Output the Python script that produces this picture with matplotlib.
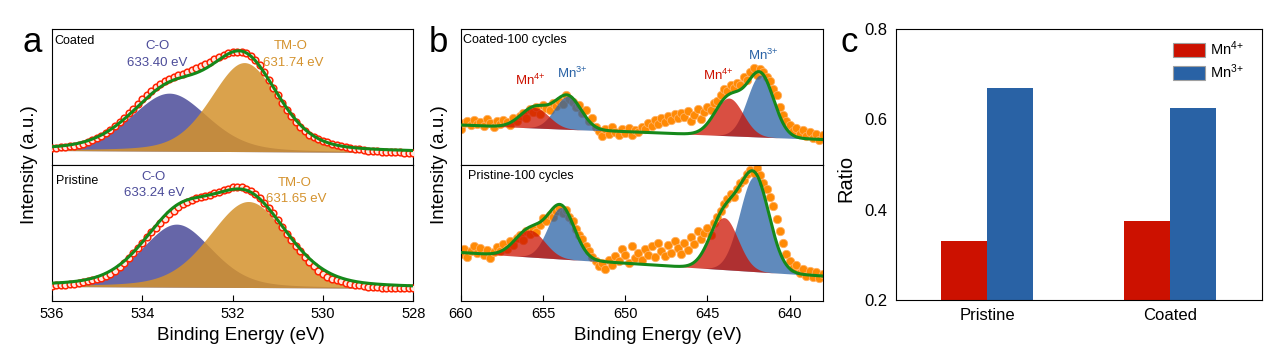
import numpy as np
import matplotlib.pyplot as plt
from matplotlib.patches import Patch

plt.rcParams['font.family'] = ['Liberation Sans', 'DejaVu Sans']
plt.rcParams['mathtext.fontset'] = 'custom'
plt.rcParams['mathtext.rm'] = 'Liberation Sans'
plt.rcParams['mathtext.it'] = 'Liberation Sans:italic'
plt.rcParams['mathtext.bf'] = 'Liberation Sans:bold'

# ---- panel a : O 1s, measured points (536 -> 528 eV, 0.1 eV step) ----
o1s_coated = [17.0, 17.3, 17.6, 18.0, 18.6, 19.2, 20.2, 21.4, 23.0, 24.8,
              26.8, 29.2, 32.0, 35.2, 39.0, 43.2, 47.4, 51.8, 56.3, 61.0,
              65.6, 70.0, 74.2, 78.0, 81.0, 84.0, 86.4, 88.3, 89.8, 91.4,
              93.0, 94.6, 96.6, 98.6, 100.8, 103.2, 105.6, 107.8, 110.0, 111.8,
              112.9, 113.4, 113.0, 111.7, 109.4, 105.4, 100.0, 93.4, 85.4, 77.5,
              70.0, 62.5, 55.2, 48.6, 42.8, 37.8, 33.6, 30.2, 27.6, 25.6,
              24.0, 22.6, 21.4, 20.3, 19.3, 18.2, 17.2, 16.4, 15.6, 15.0,
              14.5, 14.1, 13.8, 13.5, 13.2, 13.0, 12.8, 12.6, 12.4, 12.3, 12.2]
o1s_pristine = [15.0, 15.3, 15.6, 16.0, 16.4, 16.9, 17.5, 18.3, 19.2, 20.2,
                21.2, 22.6, 24.4, 26.6, 30.0, 33.8, 38.0, 42.8, 48.0, 53.0,
                58.0, 63.2, 68.2, 73.0, 77.6, 82.0, 86.2, 90.0, 93.4, 96.4,
                98.8, 100.6, 102.2, 103.6, 104.8, 106.0, 107.4, 108.8, 110.4, 112.0,
                113.3, 113.6, 113.2, 111.8, 110.0, 106.8, 102.6, 98.0, 92.8, 87.2,
                80.6, 73.6, 66.6, 60.8, 55.0, 49.4, 44.0, 38.8, 34.2, 30.0,
                26.6, 24.0, 22.0, 20.4, 19.2, 18.0, 16.9, 16.0, 15.2, 14.5,
                14.0, 13.6, 13.3, 13.0, 12.8, 12.6, 12.5, 12.4, 12.3, 12.2, 12.1]

# fitted peaks: [C-O, TM-O]
o1s_coated_center = [533.40, 531.74]
o1s_coated_height = [58, 89]
o1s_coated_fwhm = [2.0, 1.77]
o1s_coated_bg = [14.5, 12.5]
o1s_pristine_center = [533.24, 531.65]
o1s_pristine_height = [63, 86]
o1s_pristine_fwhm = [1.85, 2.05]
o1s_pristine_bg = [14.0, 12.2]

# ---- panel b : Mn 2p, measured points (660 -> 638 eV, 0.2 eV step) ----
mn_coated = [36, 42, 44, 40, 45, 41, 43, 39, 46, 42, 38, 44, 41, 45, 43, 40,
             47, 44, 49, 52, 47, 56, 53, 58, 51, 60, 57, 55, 62, 59, 64, 61,
             70, 66, 63, 58, 60, 52, 55, 44, 47, 38, 34, 29, 36, 31, 38, 33,
             30, 36, 32, 37, 30, 35, 33, 38, 36, 42, 39, 45, 41, 47, 43, 49,
             45, 51, 47, 52, 48, 54, 44, 50, 56, 46, 53, 58, 55, 62, 64, 70,
             76, 74, 80, 77, 82, 80, 88, 85, 93, 97, 90, 96, 93, 88, 84, 76,
             70, 58, 50, 44, 40, 34, 37, 31, 35, 29, 33, 27, 31, 25, 30]
mn_pristine = [47, 52, 44, 50, 55, 48, 53, 46, 51, 43, 49, 54, 50, 57, 52, 60,
               56, 63, 66, 61, 70, 67, 72, 69, 76, 83, 80, 86, 84, 90, 93, 88,
               91, 84, 80, 72, 66, 62, 55, 50, 44, 40, 35, 38, 32, 41, 36, 45,
               40, 52, 46, 38, 55, 43, 48, 41, 52, 46, 55, 44, 58, 50, 45, 56,
               48, 60, 53, 47, 58, 51, 64, 57, 70, 62, 68, 73, 66, 78, 84, 90,
               97, 102, 107, 104, 112, 118, 121, 127, 131, 128, 133, 126, 118, 112, 104, 95,
               82, 70, 58, 47, 40, 33, 36, 28, 32, 25, 30, 24, 29, 23, 27]

# fitted peaks: [Mn4+ 2p1/2, Mn3+ 2p1/2, Mn4+ 2p3/2, Mn3+ 2p3/2]
mn_coated_center = [655.5, 653.49, 643.7, 641.78]
mn_coated_height = [20.5, 33, 37.7, 62]
mn_coated_fwhm = [2.0, 1.9, 2.0, 1.9]
mn_coated_bg = [40, 25.5]
mn_pristine_center = [655.8, 653.89, 644.0, 642.15]
mn_pristine_height = [27, 51.5, 52, 95]
mn_pristine_fwhm = [2.1, 1.9, 2.0, 2.1]
mn_pristine_bg = [48, 24.5]
mn_species = ['4+', '3+', '4+', '3+']

# ---- panel c ----
samples = ['Pristine', 'Coated']
ratio_mn4 = [0.33, 0.375]
ratio_mn3 = [0.67, 0.625]

c_red = '#CC1100'
c_blue = '#2962A5'
c_co = '#4B4B99'
c_tmo = '#D4922D'
c_fit = '#15891A'

lab4 = r'Mn$^{4\!+}$'
lab3 = r'Mn$^{3\!+}$'


def peak(x, c, h, w, eta):
    g = np.exp(-4 * np.log(2) * ((x - c) / w) ** 2)
    lz = 1 / (1 + 4 * ((x - c) / w) ** 2)
    return h * ((1 - eta) * g + eta * lz)


def background(x, bg, lo, hi):
    # linear, bg[0] at lo end, bg[1] at hi end
    return bg[0] + (bg[1] - bg[0]) * (lo - x) / (lo - hi)


fig = plt.figure(figsize=(12.68, 3.52), dpi=100)

# ---------------- panel a ----------------
axa1 = fig.add_axes([0.0408, 0.5312, 0.2852, 0.3864])
axa2 = fig.add_axes([0.0408, 0.1463, 0.2852, 0.3849])
xa = np.linspace(536, 528, 500)
for ax, data, cen, hgt, fw, bg in [
        (axa1, o1s_coated, o1s_coated_center, o1s_coated_height, o1s_coated_fwhm, o1s_coated_bg),
        (axa2, o1s_pristine, o1s_pristine_center, o1s_pristine_height, o1s_pristine_fwhm, o1s_pristine_bg)]:
    base = background(xa, bg, 536, 528)
    comps = [peak(xa, cen[i], hgt[i], fw[i], 0.3) for i in range(2)]
    ax.fill_between(xa, base, base + comps[0], color=c_co, alpha=0.85, lw=0, zorder=1)
    ax.fill_between(xa, base, base + comps[1], color=c_tmo, alpha=0.85, lw=0, zorder=2)
    ea = np.linspace(536, 528, len(data))
    ax.plot(ea, data, 'o', ms=4.8, mfc='#FFE8E0', mec='#FF2200', mew=1.1, zorder=3)
    ax.plot(xa, base + comps[0] + comps[1], color=c_fit, lw=2.2, zorder=4)
    ax.set_xlim(536, 528)
    ax.set_yticks([])
    for s in ax.spines.values():
        s.set_linewidth(0.8)
axa1.set_ylim(0, 136)
axa2.set_ylim(0, 135.5)
axa1.set_xticks([])
axa2.set_xticks([536, 534, 532, 530, 528])
axa2.tick_params(axis='x', direction='in', length=4, width=0.8, labelsize=10.5, pad=5)

axa1.text(0.006, 0.912, 'Coated', transform=axa1.transAxes, fontsize=9, va='center')
axa1.text(533.67, 119, 'C-O', color=c_co, fontsize=9.5, ha='center', va='center')
axa1.text(533.67, 102.5, '633.40 eV', color=c_co, fontsize=9.5, ha='center', va='center')
axa1.text(530.71, 119, 'TM-O', color=c_tmo, fontsize=9.5, ha='center', va='center')
axa1.text(530.66, 102.5, '631.74 eV', color=c_tmo, fontsize=9.5, ha='center', va='center')
axa2.text(0.013, 0.885, 'Pristine', transform=axa2.transAxes, fontsize=9, va='center')
axa2.text(533.75, 123.5, 'C-O', color=c_co, fontsize=9.5, ha='center', va='center')
axa2.text(533.74, 108, '633.24 eV', color=c_co, fontsize=9.5, ha='center', va='center')
axa2.text(530.62, 118, 'TM-O', color=c_tmo, fontsize=9.5, ha='center', va='center')
axa2.text(530.60, 102, '631.65 eV', color=c_tmo, fontsize=9.5, ha='center', va='center')

# ---------------- panel b ----------------
axb1 = fig.add_axes([0.3633, 0.5312, 0.2855, 0.3864])
axb2 = fig.add_axes([0.3633, 0.1463, 0.2855, 0.3849])
xb = np.linspace(660, 638, 600)
for ax, data, cen, hgt, fw, bg in [
        (axb1, mn_coated, mn_coated_center, mn_coated_height, mn_coated_fwhm, mn_coated_bg),
        (axb2, mn_pristine, mn_pristine_center, mn_pristine_height, mn_pristine_fwhm, mn_pristine_bg)]:
    eb = np.linspace(660, 638, len(data))
    ax.scatter(eb, data, s=36, c='#FF8A05', edgecolors='#FFB060', linewidths=0.6, zorder=1)
    base = background(xb, bg, 660, 638)
    total = base.copy()
    for i in range(4):
        comp = peak(xb, cen[i], hgt[i], fw[i], 0.0)
        total += comp
        col = c_red if mn_species[i] == '4+' else c_blue
        z = 3 if mn_species[i] == '4+' else 2
        ax.fill_between(xb, base, base + comp, color=col, alpha=0.74, lw=0, zorder=z)
    ax.plot(xb, total, color=c_fit, lw=2.2, zorder=4)
    ax.set_xlim(660, 638)
    ax.set_yticks([])
    for s in ax.spines.values():
        s.set_linewidth(0.8)
axb1.set_ylim(0, 136)
axb2.set_ylim(0, 135.5)
axb1.set_xticks([])
axb2.set_xticks([660, 655, 650, 645, 640])
axb2.tick_params(axis='x', direction='in', length=4, width=0.8, labelsize=10.5, pad=5)

axb1.text(0.007, 0.919, 'Coated-100 cycles', transform=axb1.transAxes, fontsize=9, va='center')
axb2.text(0.019, 0.92, 'Pristine-100 cycles', transform=axb2.transAxes, fontsize=9, va='center')
axb1.text(655.74, 80, lab4, color=c_red, fontsize=9.5, ha='center', va='baseline')
axb1.text(653.2, 86.7, lab3, color=c_blue, fontsize=9.5, ha='center', va='baseline')
axb1.text(644.35, 85, lab4, color=c_red, fontsize=9.5, ha='center', va='baseline')
axb1.text(641.58, 105, lab3, color=c_blue, fontsize=9.5, ha='center', va='baseline')

# ---------------- panel c ----------------
axc = fig.add_axes([0.7064, 0.1477, 0.2886, 0.7699])
xc = np.arange(len(samples))
bw = 0.25
axc.bar(xc - bw / 2, ratio_mn4, width=bw, bottom=0, color=c_red)
axc.bar(xc + bw / 2, ratio_mn3, width=bw, bottom=0, color=c_blue)
axc.set_xlim(-0.5, 1.5)
axc.set_ylim(0.2, 0.8)
axc.set_xticks(xc)
axc.set_xticklabels(samples)
axc.set_yticks([0.2, 0.4, 0.6, 0.8])
axc.tick_params(axis='both', length=0, labelsize=12, pad=6)
for s in axc.spines.values():
    s.set_linewidth(0.8)
handles = [Patch(facecolor=c_red, edgecolor='#A0A0A0', lw=0.8, label=lab4),
           Patch(facecolor=c_blue, edgecolor='#A0A0A0', lw=0.8, label=lab3)]
axc.legend(handles=handles, loc='upper left', bbox_to_anchor=(0.758, 0.962), frameon=False,
           fontsize=10.5, handlelength=2.2, handleheight=1.05, handletextpad=0.35,
           labelspacing=0.32, borderpad=0, borderaxespad=0)

# ---------------- shared labels ----------------
W, H = 1268.0, 352.0
fig.text(29.5 / W, 1 - 165 / H, 'Intensity (a.u.)', rotation=90, fontsize=13.5, ha='center', va='center')
fig.text(440 / W, 1 - 165 / H, 'Intensity (a.u.)', rotation=90, fontsize=13.5, ha='center', va='center')
fig.text(845.5 / W, 1 - 178 / H, 'Ratio', rotation=90, fontsize=14.5, ha='center', va='center')
fig.text(241 / W, 1 - 335 / H, 'Binding Energy (eV)', fontsize=13.5, ha='center', va='center')
fig.text(658 / W, 1 - 335 / H, 'Binding Energy (eV)', fontsize=13.5, ha='center', va='center')
fig.text(22.5 / W, 1 - 51.7 / H, 'a', fontsize=25, ha='left', va='baseline')
fig.text(429 / W, 1 - 51.7 / H, 'b', fontsize=25, ha='left', va='baseline')
fig.text(841 / W, 1 - 52.3 / H, 'c', fontsize=25, ha='left', va='baseline')

fig.savefig('out.png', dpi=100, facecolor='white')
